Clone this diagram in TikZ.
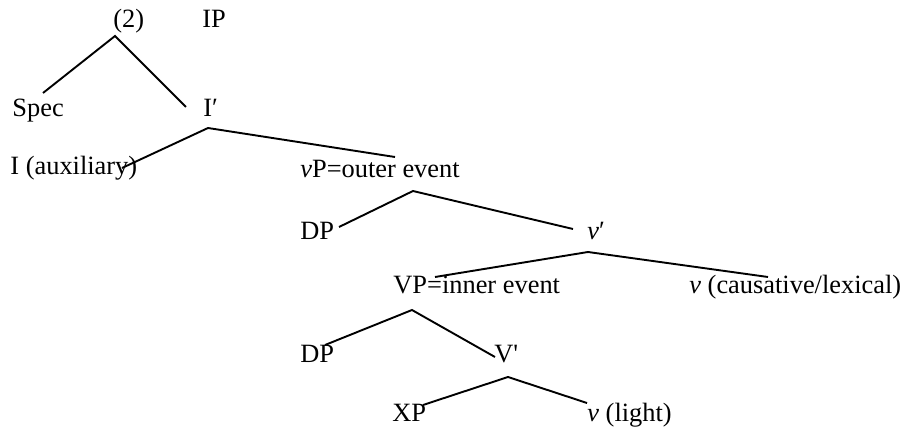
\documentclass[tikz,border=0pt]{standalone}
\usepackage{fontspec}
\setmainfont{Liberation Serif}
\begin{document}
\begin{tikzpicture}[x=0.5pt,y=-0.5pt,
  lbl/.style={anchor=base west,inner sep=0pt,font=\fontsize{13.2}{15}\selectfont},
  branch/.style={line width=0.95pt,line cap=butt}]
\useasboundingbox (0,0) rectangle (901,433);
% labels
\node[lbl] (num) at (113,28) {(2)};
\node[lbl] (ip) at (202,28) {IP};
\node[lbl] (spec) at (12,117) {Spec};
\node[lbl] (ibar) at (203,117) {I′};
\node[lbl] (iaux) at (10,175) {I (auxiliary)};
\node[lbl] (vp) at (300,177) {\textit{v}P=outer event};
\node[lbl] (dp1) at (300,240) {DP};
\node[lbl] (vbar) at (587,240) {\textit{v}′};
\node[lbl] (VP) at (393,293) {VP=inner event};
\node[lbl] (vcaus) at (689,293) {\textit{v} (causative/lexical)};
\node[lbl] (dp2) at (300,363) {DP};
\node[lbl] (Vbar) at (494,363) {V\textquotesingle};
\node[lbl] (xp) at (392,422) {XP};
\node[lbl] (vlight) at (587,422) {\textit{v} (light)};
% branch points
\coordinate (a1) at (115,36);  \coordinate (a1l) at (43,93);   \coordinate (a1r) at (186,107);
\coordinate (a2) at (208,128); \coordinate (a2l) at (122,168); \coordinate (a2r) at (395,157);
\coordinate (a3) at (413,191); \coordinate (a3l) at (339,227); \coordinate (a3r) at (573,229);
\coordinate (a4) at (588,252); \coordinate (a4l) at (435,277); \coordinate (a4r) at (768,277);
\coordinate (a5) at (412,310); \coordinate (a5l) at (325,345); \coordinate (a5r) at (495,357);
\coordinate (a6) at (508,377); \coordinate (a6l) at (423,405); \coordinate (a6r) at (587,403);
\draw[branch] (a1l) -- (a1) -- (a1r);
\draw[branch] (a2l) -- (a2) -- (a2r);
\draw[branch] (a3l) -- (a3) -- (a3r);
\draw[branch] (a4l) -- (a4) -- (a4r);
\draw[branch] (a5l) -- (a5) -- (a5r);
\draw[branch] (a6l) -- (a6) -- (a6r);
\end{tikzpicture}
\end{document}
